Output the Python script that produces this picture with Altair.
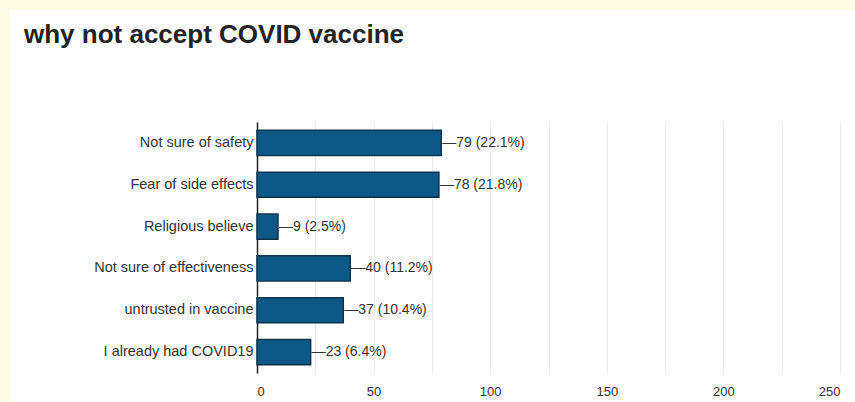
import altair as alt
import pandas as pd

# Survey answers: reasons for not accepting the COVID vaccine
reasons = [
    "Not sure of safety",
    "Fear of side effects",
    "Religious believe",
    "Not sure of effectiveness",
    "untrusted in vaccine",
    "I already had COVID19",
]
counts = [79, 78, 9, 40, 37, 23]
percents = [22.1, 21.8, 2.5, 11.2, 10.4, 6.4]
x_ticks = [0, 25, 50, 75, 100, 125, 150, 175, 200, 225, 250]

df = pd.DataFrame({"reason": reasons, "count": counts, "pct": percents})
df["label"] = [f"\u2014{c} ({p}%)" for c, p in zip(counts, percents)]

FONT = "Liberation Sans"
PLOT_W, PLOT_H = 583, 251
PAD = {"left": 257, "top": 122, "right": 15, "bottom": 29}
CREAM = "#fffbe7"

# thin cream margin along the top and left edges of the page
strip_top = alt.Chart(df).mark_rect(color=CREAM).encode(
    x=alt.value(-PAD["left"]), x2=alt.value(PLOT_W + PAD["right"]),
    y=alt.value(-PAD["top"]), y2=alt.value(-PAD["top"] + 10),
)
strip_left = alt.Chart(df).mark_rect(color=CREAM).encode(
    x=alt.value(-PAD["left"]), x2=alt.value(-PAD["left"] + 10),
    y=alt.value(-PAD["top"]), y2=alt.value(PLOT_H + PAD["bottom"]),
)

y_enc = alt.Y(
    "reason:N",
    sort=reasons,
    title=None,
    scale=alt.Scale(paddingInner=0.4, paddingOuter=0.2),
    axis=alt.Axis(
        ticks=False,
        domainColor="#222222",
        domainWidth=1.5,
        labelFont=FONT,
        labelFontSize=14.5,
        labelColor="#333333",
        labelPadding=4,
        grid=False,
    ),
)

x_enc = alt.X(
    "count:Q",
    title=None,
    scale=alt.Scale(domain=[0, 250], nice=False),
    axis=alt.Axis(
        values=x_ticks,
        labelExpr="datum.value % 50 == 0 ? datum.label : ''",
        ticks=False,
        domain=False,
        grid=True,
        gridColor="#ebebeb",
        gridWidth=1,
        labelFont=FONT,
        labelFontSize=13,
        labelColor="#333333",
        labelPadding=12,
    ),
)

bars = alt.Chart(df).mark_bar(
    color="#0e5886", stroke="#0a3552", strokeWidth=1.5
).encode(x=x_enc, y=y_enc)

labels = alt.Chart(df).mark_text(
    align="left", baseline="middle", dx=1, font=FONT, fontSize=14, color="#333333"
).encode(x="count:Q", y=alt.Y("reason:N", sort=reasons), text="label:N")

chart = alt.layer(bars, labels, strip_top, strip_left).properties(
    width=PLOT_W,
    height=PLOT_H,
    background="white",
    padding=PAD,
    autosize=alt.AutoSizeParams(type="none"),
    title=alt.TitleParams(
        "why not accept COVID vaccine",
        anchor="start",
        frame="group",
        baseline="bottom",
        font=FONT,
        fontSize=26,
        fontWeight="bold",
        color="#222222",
        dx=-233,
        dy=74,
        offset=0,
    ),
).configure_view(stroke=None)

chart.save("out.html", embed_options={"renderer": "svg", "actions": False})
